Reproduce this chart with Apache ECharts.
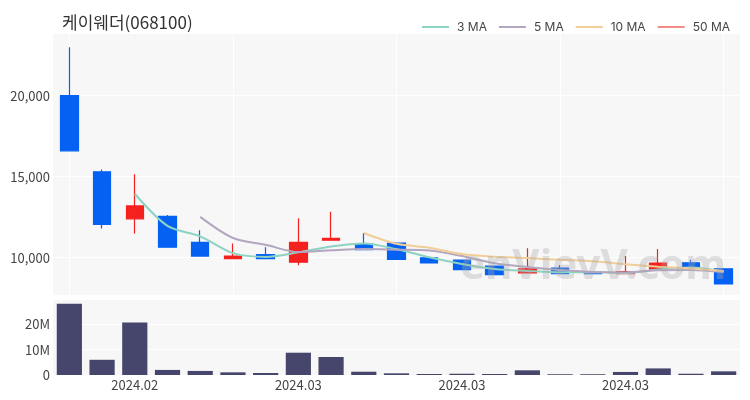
<!DOCTYPE html>
<html>
<head>
<meta charset="utf-8">
<script src="https://cdn.jsdelivr.net/npm/echarts@6/dist/echarts.min.js"></script>
<style>html,body{margin:0;padding:0;background:#fff}#c{width:750px;height:400px}</style>
</head>
<body>
<div id="c"></div>
<script>
const categories = ['2024.01','2024.01','2024.02','2024.02','2024.02','2024.02','2024.02','2024.03','2024.03','2024.03','2024.03','2024.03','2024.03','2024.03','2024.03','2024.03','2024.03','2024.03','2024.03','2024.03','2024.03'];
const opens  = [20000,15300,12400,12550,10950, 9950,10200, 9720,11080,10850,10900,10000, 9850, 9480, 9060, 9360, 9110, 9010, 9300, 9690, 9320];
const closes = [16600,12050,13200,10650,10100,10100, 9950,10950,11200,10500, 9900, 9680, 9270, 8960, 9320, 9010, 9010, 9150, 9670, 9370, 8380];
const lows   = [16600,11800,11500,10630,10100, 9950, 9950, 9530,11080,10500, 9900, 9650, 9270, 8960, 9050, 9010, 9010, 9010, 9300, 9370, 8380];
const highs  = [22990,15450,15150,12630,11700,10880,10640,12430,12840,11530,10900,10000, 9850, 9480,10580, 9550, 9110,10100,10540, 9880, 9320];
const volumes = [28.1e6,6.0e6,20.7e6,2.0e6,1.6e6,1.05e6,0.8e6,8.8e6,7.1e6,1.3e6,0.66e6,0.4e6,0.5e6,0.4e6,1.85e6,0.3e6,0.3e6,1.2e6,2.6e6,0.5e6,1.45e6];
const ma3  = [null,null,13950,11967,11317,10283,10050,10333,10700,10883,10533,10027,9617,9303,9183,9097,9113,9057,9277,9397,9140];
const ma5  = [null,null,null,null,12520,11220,10800,10350,10460,10540,10500,10446,10110,9662,9426,9248,9114,9090,9232,9242,9116];
const ma10 = [null,null,null,null,null,null,null,null,null,11530,10860,10623,10230,10061,9983,9874,9780,9600,9447,9334,9182];
const ma50 = categories.map(() => null);
const priceTicks = [10000,15000,20000];
const volumeTicks = [0,10e6,20e6];
const titleText = '케이웨더(068100)';
const watermark = 'enVievV.com';

const UP = '#f5211f', DOWN = '#0561f2';
const candleData = opens.map((o, i) => [o, closes[i], lows[i], highs[i]]);
const font = "'Noto Sans CJK KR','Noto Sans',sans-serif";

const chart = echarts.init(document.getElementById('c'), null, {renderer: 'canvas'});
chart.setOption({
  animation: false,
  backgroundColor: '#ffffff',
  textStyle: {fontFamily: font},
  title: {text: titleText, left: 57, top: 9, textStyle: {fontSize: 17, fontWeight: 'normal', color: '#333', fontFamily: font}},
  legend: {
    right: 15, top: 16, itemWidth: 27, itemHeight: 2, itemGap: 12, icon: 'rect',
    textStyle: {fontSize: 12, color: '#444', fontFamily: "Inter, 'Noto Sans', sans-serif", padding: [0, 0, 0, 3]},
    data: ['3 MA','5 MA','10 MA','50 MA']
  },
  grid: [
    {left: 53, right: 10, top: 33, height: 262, backgroundColor: '#f7f7f7', show: true, borderWidth: 0},
    {left: 53, right: 10, top: 299, height: 76, backgroundColor: '#f7f7f7', show: true, borderWidth: 0}
  ],
  xAxis: [
    {type: 'category', data: categories, gridIndex: 0, boundaryGap: true,
     axisLine: {show: false}, axisTick: {show: false}, axisLabel: {show: false},
     splitLine: {show: true, alignWithLabel: true, interval: (i) => i % 5 === 0, lineStyle: {color: '#ffffff', width: 1}}},
    {type: 'category', data: categories, gridIndex: 1, boundaryGap: true,
     axisLine: {show: false}, axisTick: {show: false}, splitLine: {show: false},
     axisLabel: {interval: (i) => i % 5 === 2, color: '#444', fontSize: 13, margin: 4, fontFamily: font}}
  ],
  yAxis: [
    {type: 'value', gridIndex: 0, min: 7700, max: 23870, splitNumber: 3, minInterval: 5000, maxInterval: 5000,
     axisLine: {show: false}, axisTick: {show: false},
     axisLabel: {color: '#444', fontSize: 13, margin: 3, fontFamily: font,
       showMinLabel: false, showMaxLabel: false,
       formatter: (v) => priceTicks.includes(v) ? v.toLocaleString('en-US') : ''},
     splitLine: {lineStyle: {color: '#ffffff', width: 1}}},
    {type: 'value', gridIndex: 1, min: 0, max: 30e6, interval: 10e6,
     axisLine: {show: false}, axisTick: {show: false},
     axisLabel: {color: '#444', fontSize: 13, margin: 3, fontFamily: font, showMaxLabel: false,
       formatter: (v) => volumeTicks.includes(v) ? (v === 0 ? '0' : (v / 1e6) + 'M') : ''},
     splitLine: {lineStyle: {color: '#ffffff', width: 1}}}
  ],
  series: [
    {type: 'candlestick', name: 'price', xAxisIndex: 0, yAxisIndex: 0, data: candleData, barWidth: '55%',
     itemStyle: {color: UP, color0: DOWN, borderColor: UP, borderColor0: DOWN, borderWidth: 1.2}},
    {type: 'line', name: '3 MA', data: ma3, xAxisIndex: 0, yAxisIndex: 0, symbol: 'none', smooth: 0.3,
     lineStyle: {color: '#8dd3c3', width: 2}, itemStyle: {color: '#8dd3c3'}},
    {type: 'line', name: '5 MA', data: ma5, xAxisIndex: 0, yAxisIndex: 0, symbol: 'none', smooth: 0.3,
     lineStyle: {color: '#b3a6c0', width: 2}, itemStyle: {color: '#b3a6c0'}},
    {type: 'line', name: '10 MA', data: ma10, xAxisIndex: 0, yAxisIndex: 0, symbol: 'none', smooth: 0.3,
     lineStyle: {color: '#f1cd98', width: 2}, itemStyle: {color: '#f1cd98'}},
    {type: 'line', name: '50 MA', data: ma50, xAxisIndex: 0, yAxisIndex: 0, symbol: 'none',
     lineStyle: {color: '#f28c86', width: 2}, itemStyle: {color: '#f28c86'}},
    {type: 'bar', name: 'volume', data: volumes, xAxisIndex: 1, yAxisIndex: 1, barWidth: '77%',
     itemStyle: {color: '#46456c'}}
  ],
  graphic: [
    {type: 'text', left: 460, top: 246, z: 100, silent: true,
     style: {text: watermark, fill: 'rgba(170,170,170,0.35)', font: "bold 42px 'Noto Sans', sans-serif"}}
  ]
});
</script>
</body>
</html>
